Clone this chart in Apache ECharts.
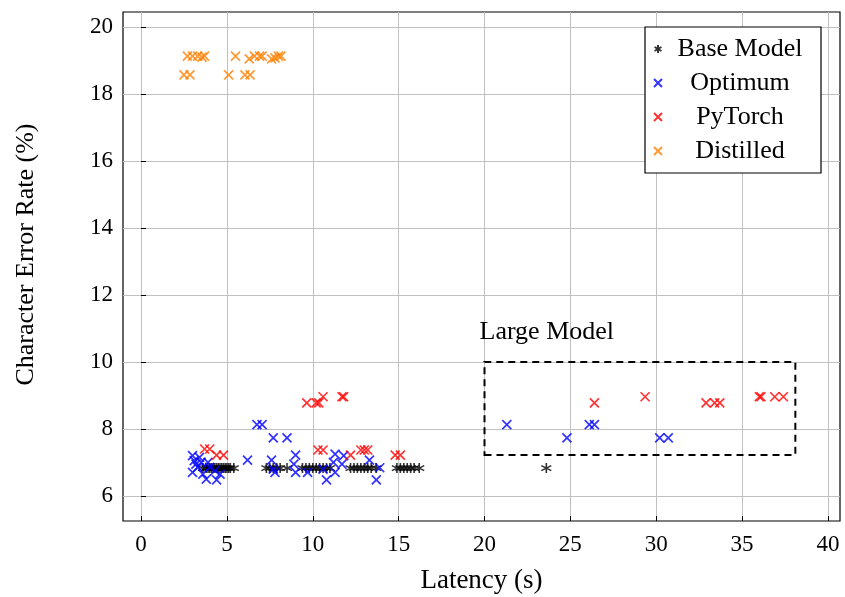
<!DOCTYPE html>
<html>
<head>
<meta charset="utf-8">
<script src="https://cdn.jsdelivr.net/npm/echarts@6/dist/echarts.min.js"></script>
<style>
  html, body { margin: 0; padding: 0; background: #fff; }
  #chart { width: 845px; height: 597px; }
</style>
</head>
<body>
<div id="chart"></div>
<script>
// latency (s) of the base model runs, all at the same CER
const baseX = [3.6, 3.8, 3.9, 4.0, 4.1, 4.2, 4.3, 4.4, 4.5, 4.6, 4.7, 4.8, 4.9, 5.0, 5.1, 5.2, 5.4,
  7.3, 7.5, 7.7, 7.9, 8.1, 8.5,
  9.4, 9.6, 9.8, 10.0, 10.2, 10.4, 10.6, 10.8, 11.0,
  12.2, 12.4, 12.6, 12.8, 13.0, 13.2, 13.4, 13.7,
  14.9, 15.1, 15.3, 15.5, 15.7, 15.9, 16.2,
  23.6];
const baseCer = 6.83;

const optimum = [
  [3.0, 7.2], [3.1, 7.05], [3.2, 6.95], [3.4, 7.15], [3.5, 7.0], [3.3, 6.85], [3.0, 6.7],
  [3.6, 6.65], [3.8, 6.5], [4.4, 6.48], [4.0, 6.85], [4.3, 6.75], [4.6, 6.65], [3.9, 7.0],
  [6.2, 7.07], [6.75, 8.13], [7.05, 8.13], [7.7, 7.73], [8.5, 7.73], [7.6, 7.07], [7.7, 6.8],
  [7.8, 6.7], [9.0, 7.22], [8.9, 6.95], [9.0, 6.7], [9.7, 6.7], [10.6, 6.8], [10.8, 6.48],
  [11.3, 7.25], [11.2, 7.0], [11.3, 6.7], [11.8, 7.2], [11.7, 6.95], [13.3, 7.07], [13.9, 6.84],
  [13.7, 6.48],
  [21.3, 8.13], [24.8, 7.73], [26.1, 8.13], [26.4, 8.13], [30.2, 7.73], [30.7, 7.73]
];

const pytorch = [
  [3.7, 7.4], [4.0, 7.4], [4.4, 7.22], [4.8, 7.22], [9.65, 8.78], [10.2, 8.78], [10.35, 8.78],
  [10.6, 8.96], [11.7, 8.96], [11.8, 8.96], [10.3, 7.37], [10.6, 7.37], [12.2, 7.22],
  [12.8, 7.37], [13.0, 7.37], [13.2, 7.37], [14.8, 7.22], [15.1, 7.22],
  [26.4, 8.78], [29.35, 8.96], [32.9, 8.78], [33.4, 8.78], [33.7, 8.78], [36.0, 8.96],
  [36.1, 8.96], [36.9, 8.96], [37.4, 8.96]
];

const distilled = [
  [2.7, 19.13], [3.0, 19.13], [3.3, 19.13], [3.55, 19.1], [3.7, 19.13], [5.5, 19.13],
  [6.3, 19.05], [6.6, 19.13], [6.9, 19.13], [7.05, 19.13], [7.6, 19.05], [7.8, 19.08],
  [8.0, 19.13], [8.15, 19.13],
  [2.5, 18.57], [2.85, 18.57], [5.1, 18.57], [6.05, 18.57], [6.35, 18.57]
];

const xTicks = [0, 5, 10, 15, 20, 25, 30, 35, 40];
const yTicks = [6, 8, 10, 12, 14, 16, 18, 20];
const largeBox = [[20, 7.22], [38.1, 10.0]];

const font = '"Liberation Serif", "DejaVu Serif", serif';
const cross = 'path://M0,0L10,10M10,0L0,10';
const star = 'path://M5,0L5,10M0.7,2.5L9.3,7.5M0.7,7.5L9.3,2.5';

function crossSeries(name, data, color) {
  return {
    name, type: 'scatter', data,
    symbol: cross, symbolSize: 9,
    itemStyle: { color: 'transparent', borderColor: color, borderWidth: 1.7 }
  };
}

const chart = echarts.init(document.getElementById('chart'));
chart.setOption({
  animation: false,
  grid: {
    left: 123, right: 5, top: 12, bottom: 76, outerBoundsMode: 'none', containLabel: false,
    show: true, borderColor: '#000', borderWidth: 1.2
  },
  xAxis: {
    type: 'value', min: -1.05, max: 40.7,
    name: 'Latency (s)', nameLocation: 'middle', nameGap: 46,
    nameTextStyle: { fontFamily: font, fontSize: 27, color: '#000' },
    axisLine: { show: false },
    axisTick: { inside: true, length: 5, customValues: xTicks, lineStyle: { color: '#000' } },
    axisLabel: { customValues: xTicks, fontFamily: font, fontSize: 23, color: '#000', margin: 12 },
    splitLine: { show: true, lineStyle: { color: '#c0c0c0', width: 1 } }
  },
  yAxis: {
    type: 'value', min: 5.25, max: 20.45,
    name: 'Character Error Rate (%)', nameLocation: 'middle', nameGap: 84,
    nameTextStyle: { fontFamily: font, fontSize: 26, color: '#000', padding: [0, 0, 0, 24] },
    axisLine: { show: false },
    axisTick: { inside: true, length: 5, customValues: yTicks, lineStyle: { color: '#000' } },
    axisLabel: { customValues: yTicks, fontFamily: font, fontSize: 23, color: '#000', margin: 10 },
    splitLine: { show: true, lineStyle: { color: '#c0c0c0', width: 1 } }
  },
  legend: {
    orient: 'vertical', left: 645, top: 27,
    padding: [9, 8, 9, 8], itemGap: 8,
    borderColor: '#000', borderWidth: 1.2, backgroundColor: '#fff',
    itemWidth: 8, itemHeight: 8,
    formatter: n => '{t|' + n + '}',
    textStyle: {
      rich: { t: { fontFamily: font, fontSize: 26, color: '#000', width: 146, align: 'center', lineHeight: 30 } }
    },
    data: ['Base Model', 'Optimum', 'PyTorch', 'Distilled']
  },
  series: [
    {
      name: 'Base Model', type: 'scatter',
      data: baseX.map(x => [x, baseCer]),
      symbol: star, symbolSize: 10,
      itemStyle: { color: 'transparent', borderColor: '#000', borderWidth: 1.6 },
      markArea: {
        silent: true,
        itemStyle: { color: 'transparent', borderColor: '#000', borderWidth: 2, borderType: [7, 5] },
        label: { show: true, position: [-4, -42], fontFamily: font, fontSize: 26, color: '#000' },
        data: [[{ name: 'Large Model', coord: largeBox[0] }, { coord: largeBox[1] }]]
      }
    },
    crossSeries('Optimum', optimum, '#0000ff'),
    crossSeries('PyTorch', pytorch, '#ff0000'),
    crossSeries('Distilled', distilled, '#ff8000')
  ]
});
</script>
</body>
</html>
